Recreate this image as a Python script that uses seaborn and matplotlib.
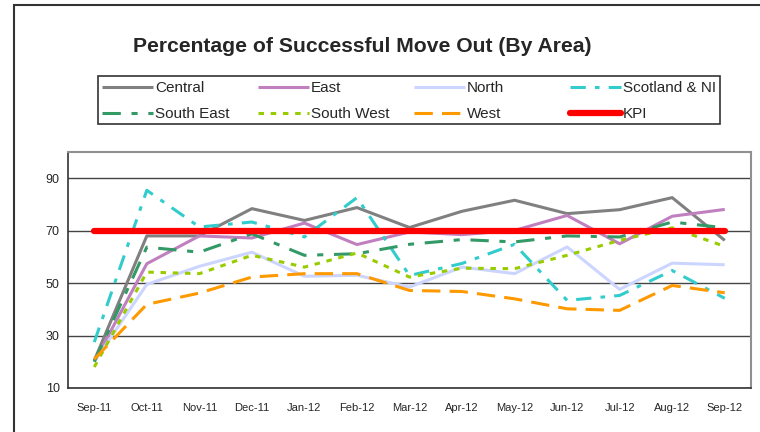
import numpy as np
import pandas as pd
import matplotlib
matplotlib.use("Agg")
import matplotlib.pyplot as plt
import seaborn as sns
from matplotlib.patches import Rectangle

# data
months = ["Sep-11", "Oct-11", "Nov-11", "Dec-11", "Jan-12", "Feb-12", "Mar-12",
          "Apr-12", "May-12", "Jun-12", "Jul-12", "Aug-12", "Sep-12"]
central = [20.5, 68, 68, 78.4, 73.9, 78.8, 71.2, 77.4, 81.6, 76.5, 78, 82.6, 66.3]
east = [20, 57.4, 68, 67.2, 72.9, 64.7, 69.5, 68.5, 70.1, 75.8, 65, 75.5, 78.1]
north = [20, 49.5, 56.4, 61.8, 52.6, 53, 48.5, 56.1, 53.6, 63.8, 47.6, 57.6, 57]
scotland_ni = [27.5, 85.4, 71.4, 73.3, 67.6, 82.6, 52.9, 57.5, 64.8, 43.4, 45.3, 54.8, 44.2]
south_east = [20, 63.7, 61.8, 68.8, 60.6, 61.2, 64.8, 66.6, 65.7, 68, 67.6, 73.3, 71.1]
south_west = [18, 54.2, 53.6, 60.6, 56.1, 61.5, 52.3, 55.7, 55.5, 60.6, 66.3, 71.1, 64]
west = [21, 41.9, 46.2, 52.3, 53.6, 53.6, 47.2, 46.8, 44, 40.2, 39.6, 49.1, 46.3]
kpi = [70] * len(months)

series = [
    ("Central", central, "#808080", "-", 2.2),
    ("East", east, "#C080C0", "-", 2.2),
    ("North", north, "#CCD5FF", "-", 2.2),
    ("Scotland & NI", scotland_ni, "#33CCCC", (0, (5, 3, 1.5, 3)), 2.2),
    ("South East", south_east, "#339966", (0, (6, 3.5, 2, 3.5)), 2.2),
    ("South West", south_west, "#99CC00", (0, (1.8, 2.2)), 2.2),
    ("West", west, "#FF9900", (0, (6, 3)), 2.2),
    ("KPI", kpi, "#FF0000", "-", 4.5),
]

sns.set_style("white")
plt.rcParams["font.family"] = ["Liberation Sans", "DejaVu Sans"]

fig = plt.figure(figsize=(7.6, 4.32), dpi=100)
ax = fig.add_axes([68 / 760, 1 - 388 / 432, (751 - 68) / 760, (388 - 152) / 432])

x = np.arange(len(months))
handles = {}
for name, vals, color, ls, lw in series:
    df = pd.DataFrame({"x": x, "y": vals})
    sns.lineplot(data=df, x="x", y="y", ax=ax, color=color, linewidth=lw,
                 linestyle=ls, label=name,
                 solid_capstyle="round" if name == "KPI" else "butt")
    handles[name] = ax.lines[-1]

ax.set_xlim(-0.5, len(months) - 0.5)
ax.set_ylim(10, 100)
ax.set_yticks([10, 30, 50, 70, 90])
ax.set_xticks(x)
ax.set_xticklabels(months, fontsize=8)
ax.set_xticks(np.arange(len(months) + 1) - 0.5, minor=True)
ax.tick_params(axis="x", which="major", length=0, pad=11)
ax.tick_params(axis="x", which="minor", length=4, width=1, color="#333333", direction="out")
ax.tick_params(axis="y", length=4, width=1, color="#333333", direction="out", labelsize=9, pad=2)
ax.set_xlabel("")
ax.set_ylabel("")
ax.yaxis.grid(True, color="#444444", linewidth=1)
ax.set_axisbelow(True)
for side in ["left", "bottom"]:
    ax.spines[side].set_color("#333333")
    ax.spines[side].set_linewidth(1.2)
for side in ["top", "right"]:
    ax.spines[side].set_color("#909090")
    ax.spines[side].set_linewidth(1.5)
ax.get_legend().remove()

# legend: 4 evenly spaced columns in one box, like the Excel original
columns = [["Central", "South East"], ["East", "South West"],
           ["North", "West"], ["Scotland & NI", "KPI"]]
col_x = [102, 258, 414, 570]
for names, cx in zip(columns, col_x):
    leg = fig.legend([handles[n] for n in names], names, loc="upper left",
                     bbox_to_anchor=(cx / 760, 1 - 81 / 432), frameon=False,
                     fontsize=11, handlelength=3.35, handletextpad=0.12,
                     borderpad=0, borderaxespad=0, labelspacing=0.8)
fig.patches.append(Rectangle((98 / 760, 1 - 124 / 432), 622 / 760, 48 / 432,
                             transform=fig.transFigure, fill=False,
                             edgecolor="#333333", linewidth=1.2))

fig.text(0.476, 1 - 46 / 432, "Percentage of Successful Move Out (By Area)",
         ha="center", va="center", fontsize=15.2, fontweight="bold")

# outer chart border (cut off on right and bottom)
fig.patches.append(Rectangle((14 / 760, -0.2), 1.2, 1.2 - 5 / 432, transform=fig.transFigure,
                             fill=False, edgecolor="#333333", linewidth=1.5))

fig.savefig("out.png", dpi=100)
